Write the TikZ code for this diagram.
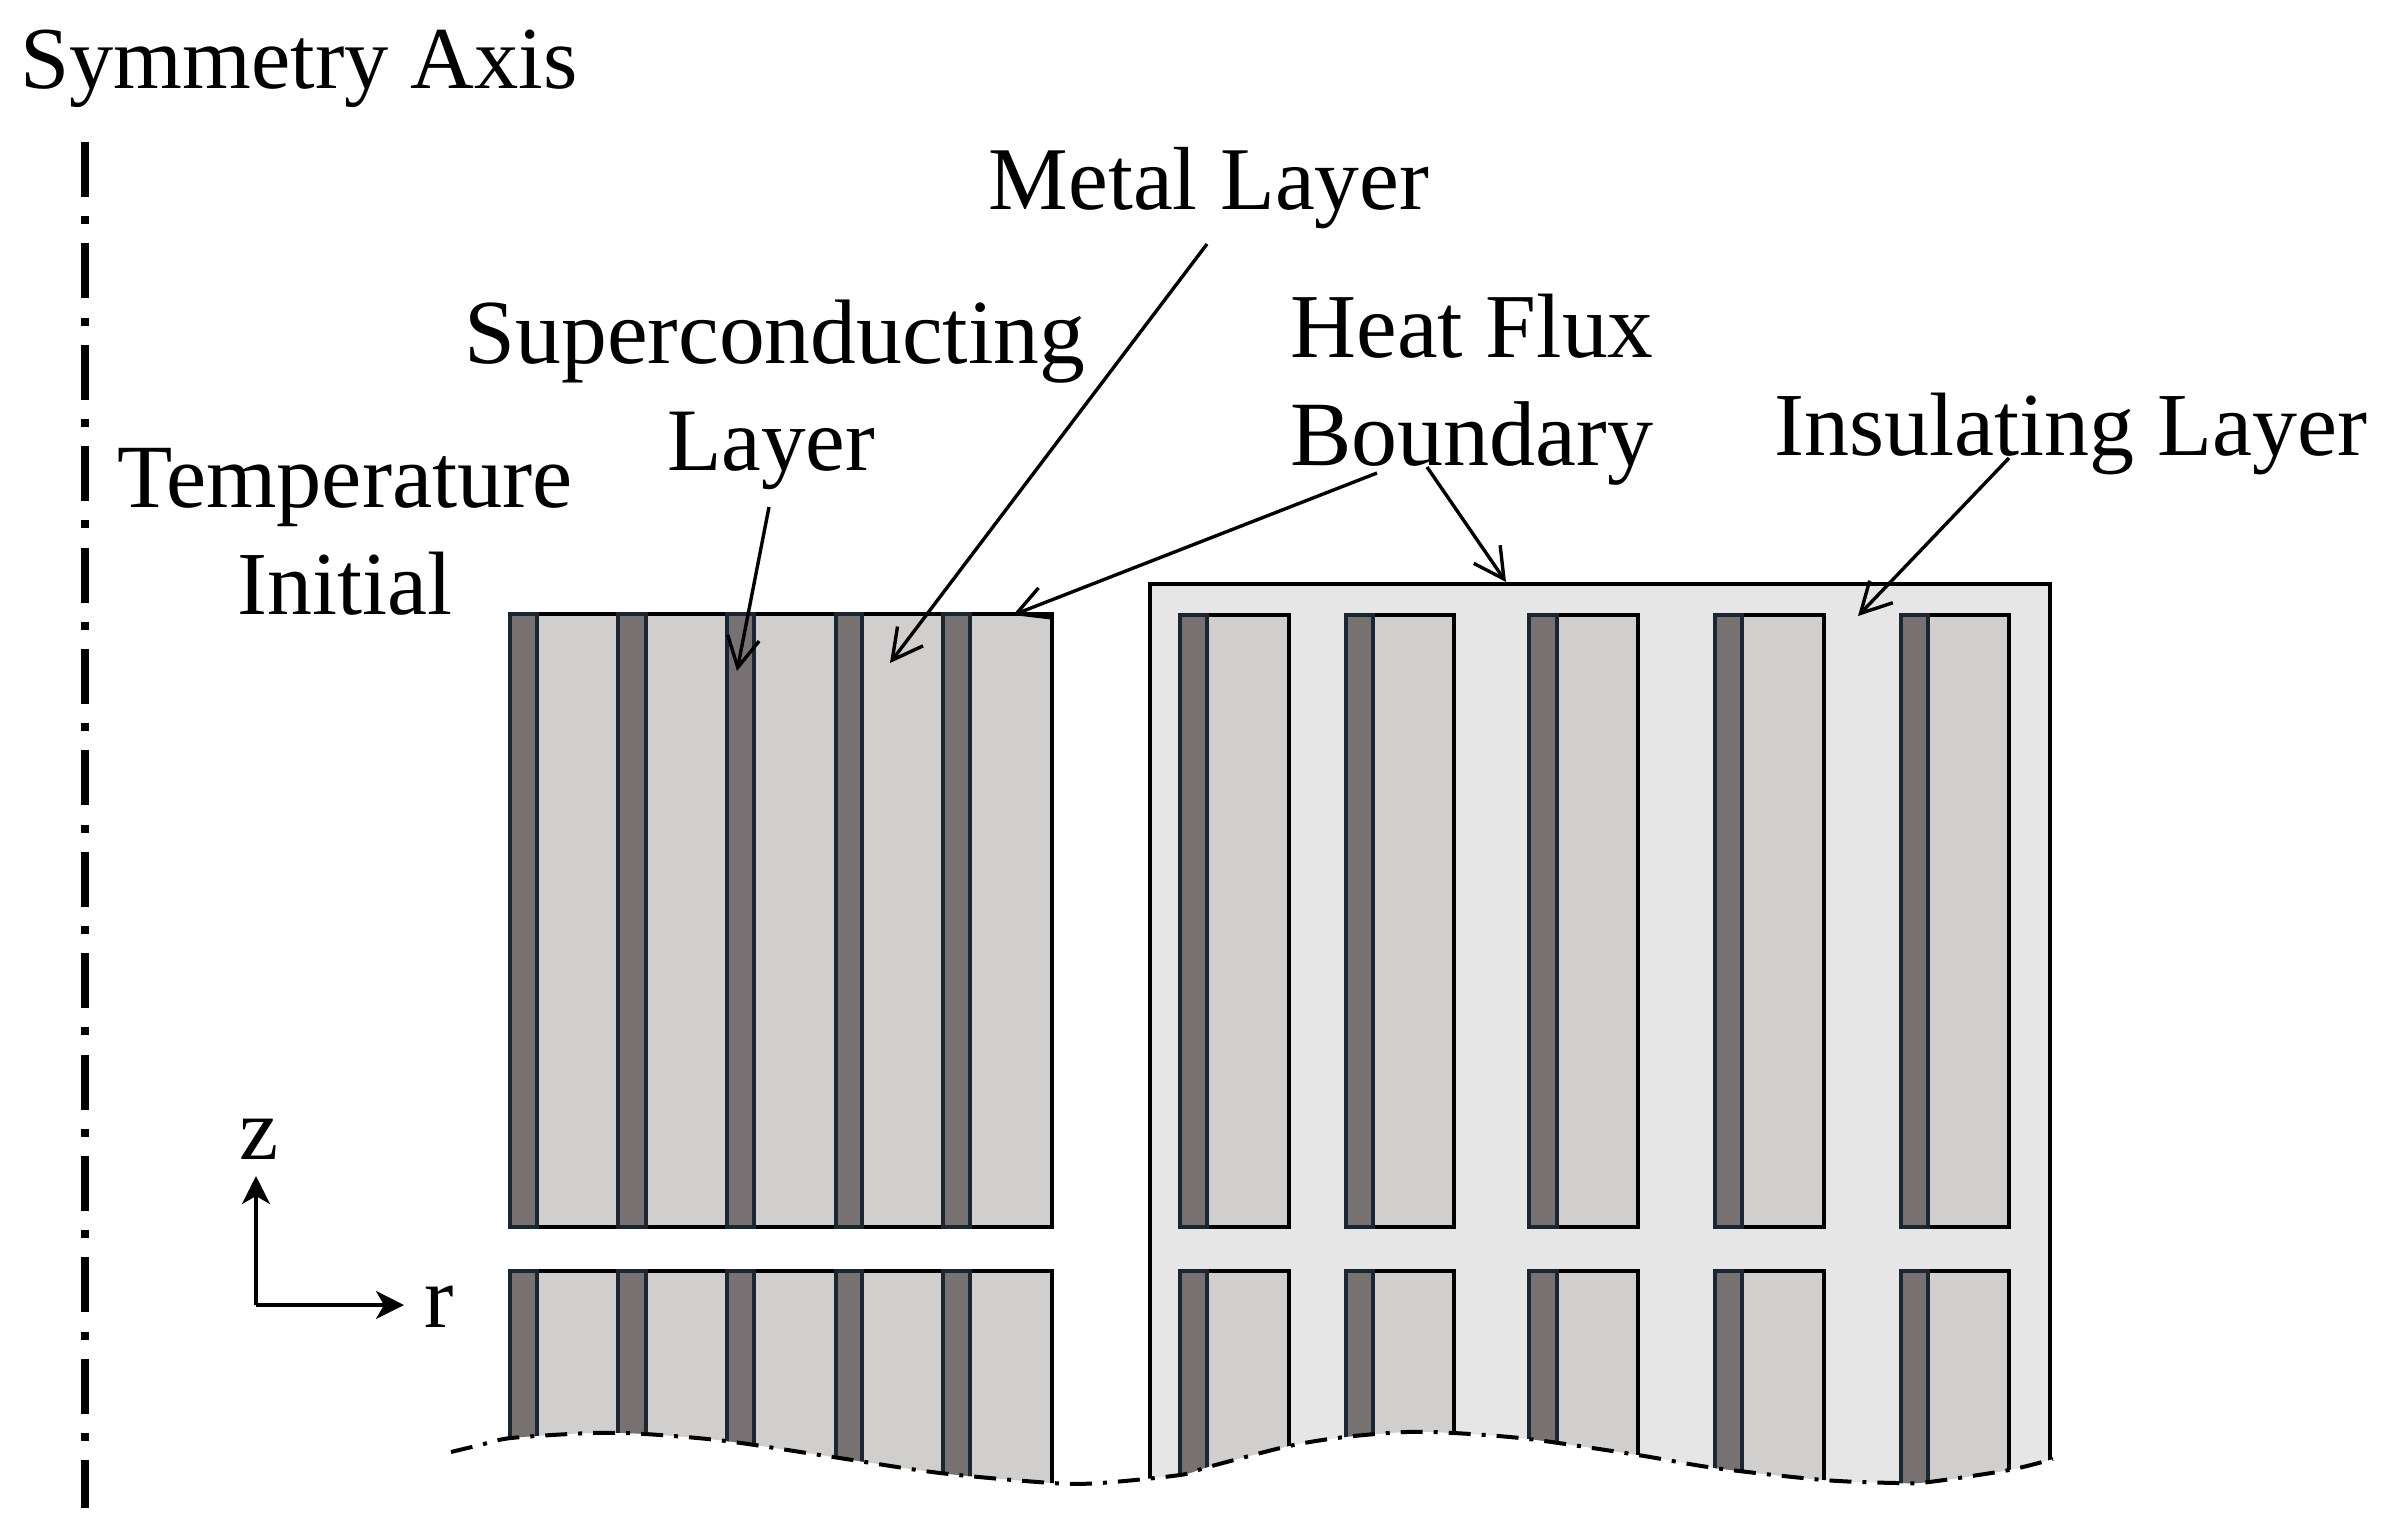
\documentclass[tikz,border=0pt]{standalone}
\usepackage{fontspec}
\setmainfont{Liberation Serif}
\usetikzlibrary{arrows.meta}
\definecolor{stripdark}{HTML}{787171}
\definecolor{stripline}{HTML}{1A2733}
\definecolor{metallight}{HTML}{D0CFCD}
\definecolor{insul}{HTML}{E6E6E6}
\tikzset{
  lab/.style={anchor=base,inner sep=0pt,font=\fontsize{#1}{#1}\selectfont},
  leader/.style={line width=1.7pt,-{Straight Barb[length=15pt,width=16pt]}},
  axisarrow/.style={line width=1.7pt,-{Stealth[length=14pt,width=14pt,inset=4pt]}},
  symaxis/.style={line width=4.2pt,dash pattern=on 27.5pt off 9.6pt on 4pt off 9.6pt},
  cutline/.style={line width=2pt,dash pattern=on 11pt off 5.5pt on 2pt off 5.5pt},
  block/.style={draw=black,line width=2pt},
  metalfill/.style={block,fill=metallight},
  strip/.style={draw=stripline,line width=2pt,fill=stripdark},
  wave/.style={insert path={plot[smooth] coordinates {(451,1452) (480,1445) (511,1438) (592,1433) (645,1434) (726,1441) (833,1457) (940,1473) (1052,1483) (1100,1483) (1180,1475) (1208,1467) (1289,1446) (1345,1437) (1406,1432) (1454,1433) (1529,1439) (1638,1455) (1715,1468) (1824,1480) (1897,1483) (1929,1482) (2009,1470) (2053,1459)}}}
}
\begin{document}
\begin{tikzpicture}[x=0.5pt,y=-0.5pt]
\useasboundingbox (0,0) rectangle (2395,1538);
% clipped geometry
\begin{scope}
\clip [wave] -- (2053,500) -- (451,500) -- cycle;
\fill[insul] (1150,584) rectangle (2050,1600);
\draw[block] (1150,1600) -- (1150,584) -- (2050,584) -- (2050,1600);
% left block
\draw[metalfill] (510,614) rectangle (1052,1227);
\draw[metalfill] (510,1271) rectangle (1052,1600);
\foreach \a/\b in {510/537,618/646,727/754,836/862,943/970}{
  \draw[strip] (\a,614) rectangle (\b,1227);
  \draw[strip] (\a,1271) rectangle (\b,1600);
}
% right block
\foreach \a/\b/\c in {1180/1207/1289,1346/1373/1454,1529/1557/1638,1715/1742/1824,1901/1928/2009}{
  \draw[metalfill] (\a,615) rectangle (\c,1227);
  \draw[metalfill] (\a,1271) rectangle (\c,1600);
  \draw[strip] (\a,615) rectangle (\b,1227);
  \draw[strip] (\a,1271) rectangle (\b,1600);
}
\end{scope}
\draw[cutline] [wave];
% symmetry axis
\coordinate (axtop) at (85,142);
\coordinate (axbot) at (85,1508);
\draw[symaxis] (axtop) -- (axbot);
% labels
\node[lab=44.2] (sym) at (299,88) {Symmetry Axis};
\node[lab=44.8] (metal) at (1209,209) {Metal Layer};
\node[lab=45.8] (sup) at (775,363) {Superconducting};
\node[lab=44.6] (suplay) at (771,470) {Layer};
\node[lab=45.7] (heat) at (1472,357) {Heat Flux};
\node[lab=46] (bound) at (1472,465) {Boundary};
\node[lab=45] (ins) at (2071,455) {Insulating Layer};
\node[lab=45.2] (temp) at (345,507) {Temperature};
\node[lab=45] (init) at (345,614) {Initial};
\node[lab=44] (zl) at (259,1159) {z};
\node[lab=44] (rl) at (439,1327) {r};
% leaders
\coordinate (s1) at (769,507); \coordinate (t1) at (737,671);
\coordinate (s2) at (1207,244); \coordinate (t2) at (890,663);
\coordinate (s3) at (1377,473); \coordinate (t3) at (1013,615);
\coordinate (s4) at (1427,467); \coordinate (t4) at (1506,582);
\coordinate (s5) at (2009,458); \coordinate (t5) at (1858,616);
\draw[leader] (s1) -- (t1);
\draw[leader] (s2) -- (t2);
\draw[leader] (s3) -- (t3);
\draw[leader] (s4) -- (t4);
\draw[leader] (s5) -- (t5);
% r-z axes
\coordinate (orig) at (256,1305);
\coordinate (ztip) at (256,1176);
\coordinate (rtip) at (404,1305);
\draw[axisarrow] (orig) -- (ztip);
\draw[axisarrow] (orig) -- (rtip);
\end{tikzpicture}
\end{document}
